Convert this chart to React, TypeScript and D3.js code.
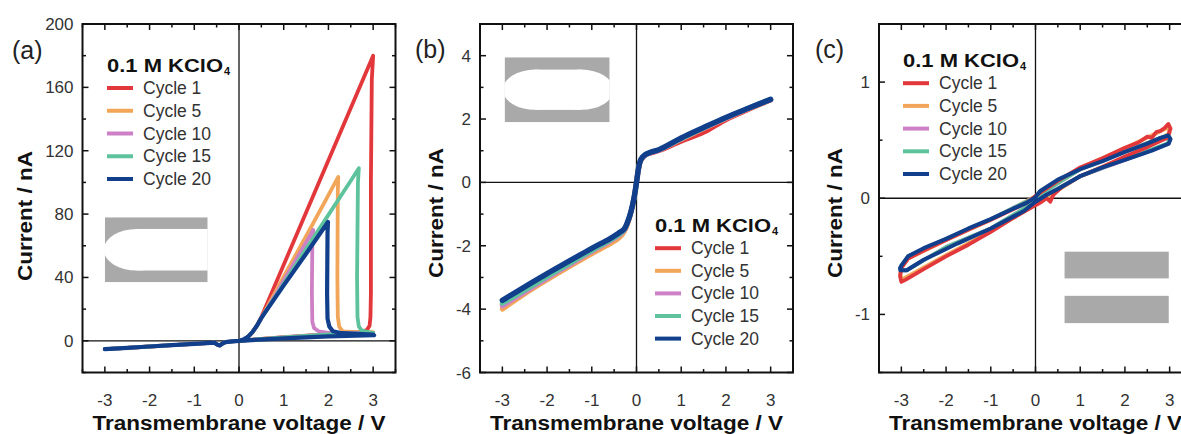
import React from 'react';
import * as d3 from 'd3';

type Pt = [number, number];

// legend / series info
const cycleNames = ['Cycle 1', 'Cycle 5', 'Cycle 10', 'Cycle 15', 'Cycle 20'];
const cycleColors = ['#e2383c', '#f2a65a', '#cd80c6', '#5ec39c', '#113f8b'];

// tick labels
const xTickValues = [-3, -2, -1, 0, 1, 2, 3];
const aYTicks = [0, 40, 80, 120, 160, 200];
const bYTicks = [-6, -4, -2, 0, 2, 4];
const cYTicks = [-1, 0, 1];

// (a) conical pore (V, nA)
const aNeg: Pt[] = [[-3, -5.2], [-2.5, -4.4], [-2, -3.6], [-1.5, -2.7], [-1, -1.9], [-0.55, -1.2],
  [-0.49, -2.3], [-0.43, -2.9], [-0.37, -1.7], [-0.3, -0.8], [-0.15, -0.3], [0, 0]];
const aRise: Pt[] = [[0.1, 0.8], [0.2, 2.5], [0.3, 5.5], [0.4, 9.5]];
const aCycle1: Pt[] = [...aNeg, ...aRise, [0.5, 15], [1, 48], [1.5, 81], [2, 114], [2.5, 147], [3.0, 180],
  [2.97, 165], [2.95, 100], [2.95, 30], [2.94, 15], [2.92, 9.5], [2.86, 6.8], [2.7, 5.6], [2.0, 4.2], [1.0, 2.3], [0.5, 1.2], [0, 0]];
const aCycle5: Pt[] = [...aNeg, ...aRise, [0.5, 14.5], [1, 40.5], [1.5, 66], [2, 92], [2.22, 103.5],
  [2.21, 95], [2.2, 40], [2.21, 15], [2.24, 9], [2.32, 6], [2.6, 5.5], [3, 5.5], [2.5, 4.5], [1.5, 3], [0.5, 1.2], [0, 0]];
const aCycle10: Pt[] = [...aNeg, ...aRise, [0.5, 14], [1, 38], [1.5, 62], [1.62, 68], [1.66, 70],
  [1.64, 62], [1.63, 30], [1.64, 12], [1.68, 8], [1.78, 6], [2.0, 5], [3, 5], [2, 4], [1, 2.2], [0, 0]];
const aCycle15: Pt[] = [...aNeg, ...aRise, [0.5, 14.5], [1, 36], [1.5, 58], [2, 79.5], [2.5, 101], [2.68, 109],
  [2.66, 100], [2.64, 40], [2.65, 15], [2.68, 9], [2.75, 6.5], [2.9, 5.5], [3, 5], [2, 4], [1, 2.2], [0, 0]];
const aCycle20: Pt[] = [...aNeg, ...aRise, [0.5, 14.5], [1, 35], [1.5, 55], [1.99, 75],
  [1.98, 68], [1.97, 30], [1.98, 14], [2.02, 9], [2.1, 6], [2.3, 4.8], [3, 4], [3.02, 3.5], [2, 2.8], [1, 1.6], [0, 0]];

// (b) double conical pore
const bCycle1: Pt[] = [[-3, -3.85], [-2.5, -3.42], [-2, -3.0], [-1.5, -2.6], [-1, -2.2], [-0.6, -1.92], [-0.4, -1.75],
  [-0.28, -1.55], [-0.2, -1.3], [-0.12, -0.92], [-0.05, -0.45], [0, 0], [0.05, 0.46], [0.1, 0.7], [0.2, 0.86],
  [0.35, 0.94], [0.5, 1.0], [1, 1.3], [1.5, 1.58], [2, 1.98], [2.5, 2.3], [3, 2.6]];
const bCycle5: Pt[] = [[-3, -4.0], [-2.5, -3.52], [-2, -3.08], [-1.5, -2.66], [-1, -2.25], [-0.6, -1.95], [-0.4, -1.76],
  [-0.28, -1.56], [-0.2, -1.3], [-0.12, -0.92], [-0.05, -0.45], [0, 0], [0.05, 0.47], [0.1, 0.72], [0.2, 0.87],
  [0.35, 0.96], [0.5, 1.02], [1, 1.36], [1.5, 1.7], [2, 2.02], [2.5, 2.32], [3, 2.6]];
const bCycle10: Pt[] = [[-3, -3.9], [-2.5, -3.46], [-2, -3.02], [-1.5, -2.6], [-1, -2.18], [-0.6, -1.86], [-0.4, -1.68],
  [-0.28, -1.52], [-0.2, -1.28], [-0.12, -0.91], [-0.05, -0.45], [0, 0], [0.05, 0.47], [0.1, 0.72], [0.2, 0.87],
  [0.35, 0.96], [0.5, 1.02], [1, 1.37], [1.5, 1.71], [2, 2.03], [2.5, 2.33], [3, 2.61]];
const bCycle15: Pt[] = [[-3, -3.82], [-2.5, -3.4], [-2, -2.97], [-1.5, -2.56], [-1, -2.15], [-0.6, -1.83], [-0.4, -1.65],
  [-0.28, -1.5], [-0.2, -1.27], [-0.12, -0.9], [-0.05, -0.45], [0, 0], [0.05, 0.48], [0.1, 0.73], [0.2, 0.88],
  [0.35, 0.97], [0.5, 1.03], [1, 1.38], [1.5, 1.72], [2, 2.04], [2.5, 2.34], [3, 2.62]];
const bCycle20: Pt[] = [[-3, -3.72], [-2.5, -3.3], [-2, -2.88], [-1.5, -2.48], [-1, -2.08], [-0.6, -1.78], [-0.4, -1.6],
  [-0.28, -1.48], [-0.2, -1.25], [-0.12, -0.9], [-0.05, -0.45], [0, 0], [0.05, 0.48], [0.1, 0.73], [0.2, 0.88],
  [0.35, 0.97], [0.5, 1.03], [1, 1.4], [1.5, 1.73], [2, 2.05], [2.5, 2.34], [3, 2.62]];

// (c) cylindrical pore, hysteresis loops
const cCycle1: Pt[] = [[-3, -0.6], [-2.85, -0.52], [-2.5, -0.45], [-2, -0.36], [-1.5, -0.27], [-1, -0.185], [-0.5, -0.095],
  [-0.2, -0.04], [0, 0.02], [0.5, 0.15], [1, 0.265], [1.5, 0.345], [2, 0.435], [2.3, 0.48], [2.5, 0.53], [2.6, 0.52],
  [2.7, 0.57], [2.8, 0.58], [2.9, 0.61], [2.97, 0.64], [3.02, 0.6], [2.95, 0.52], [2.5, 0.44], [2, 0.36], [1.5, 0.27],
  [1, 0.19], [0.6, 0.1], [0.4, 0.03], [0.33, -0.03], [0.25, 0.0], [0.1, -0.04], [0, -0.06], [-0.5, -0.17], [-1, -0.29],
  [-1.5, -0.4], [-2, -0.5], [-2.5, -0.61], [-2.9, -0.7], [-3, -0.72], [-3.03, -0.67], [-3, -0.6]];
const cCycle5: Pt[] = [[-3, -0.6], [-2.85, -0.52], [-2, -0.36], [-1, -0.185], [0, 0.015], [1, 0.26], [2, 0.43],
  [2.7, 0.56], [2.97, 0.61], [3.0, 0.56], [2.5, 0.44], [2, 0.355], [1, 0.19], [0.3, 0.02], [0, -0.055], [-1, -0.285],
  [-2, -0.49], [-2.8, -0.66], [-3, -0.7], [-3.02, -0.65], [-3, -0.6]];
const cCycle10: Pt[] = [[-3, -0.58], [-2.85, -0.5], [-2, -0.35], [-1, -0.18], [0, 0.01], [1, 0.25], [2, 0.4], [2.8, 0.52],
  [2.97, 0.54], [2.98, 0.47], [2, 0.33], [1, 0.19], [0.25, 0.03], [0, -0.03], [-1, -0.26], [-2, -0.42], [-2.88, -0.62],
  [-3.02, -0.62], [-3, -0.58]];
const cCycle15: Pt[] = [[-3, -0.58], [-2.85, -0.5], [-2, -0.35], [-1, -0.18], [0, 0.01], [1, 0.25], [2, 0.4], [2.8, 0.52],
  [2.97, 0.545], [2.98, 0.475], [2, 0.335], [1, 0.19], [0.25, 0.03], [0, -0.03], [-1, -0.26], [-2, -0.42], [-2.88, -0.62],
  [-3.02, -0.62], [-3, -0.58]];
const cCycle20: Pt[] = [[-3, -0.58], [-2.85, -0.5], [-2.5, -0.43], [-2, -0.35], [-1.5, -0.26], [-1, -0.18], [-0.5, -0.09],
  [-0.2, -0.04], [0, 0.01], [0.1, 0.06], [0.5, 0.16], [1, 0.25], [1.5, 0.32], [2, 0.4], [2.5, 0.47], [2.8, 0.52],
  [2.97, 0.54], [3.02, 0.51], [2.98, 0.47], [2.6, 0.41], [2, 0.33], [1.5, 0.265], [1, 0.19], [0.5, 0.08], [0.25, 0.03],
  [0, -0.03], [-0.26, -0.11], [-1, -0.26], [-1.75, -0.39], [-2.5, -0.53], [-2.88, -0.62], [-3.02, -0.62], [-3.03, -0.6],
  [-3, -0.58]];

const FONT = '"Liberation Sans", Arial, Helvetica, sans-serif';
const TOP = 24;
const BOTTOM = 372.5;
const PW = 313;

function Legend({ x, y, step }) {
  return (
    <g>
      <text x={x} y={y} fontFamily={FONT} fontWeight="bold" fontSize={19} fill="#111"
        textLength={116} lengthAdjust="spacingAndGlyphs">0.1 M KClO</text>
      <text x={x + 117} y={y + 3} fontFamily={FONT} fontWeight="bold" fontSize={11} fill="#111">4</text>
      {cycleNames.map((name, i) => {
        let ly = y + 16.5 + i * step;
        return (
          <g key={name}>
            <line x1={x} x2={x + 26} y1={ly} y2={ly} stroke={cycleColors[i]} strokeWidth={4} />
            <text x={x + 36} y={ly + 6} fontFamily={FONT} fontSize={17.5} fill="#333">{name}</text>
          </g>
        );
      })}
    </g>
  );
}

function Panel({ left, yDomain, yTicks, yMinor, series, widths, order, label, legend, titleX, titleY, curve, inset }) {
  const x = d3.scaleLinear().domain([-3.5, 3.5]).range([left, left + PW]);
  const y = d3.scaleLinear().domain(yDomain).range([BOTTOM, TOP]);
  const line = d3.line<Pt>().x((d) => x(d[0])).y((d) => y(d[1])).curve(curve);

  let xMinor = d3.range(-3.5, 3.51, 0.5).filter((v) => !xTickValues.includes(v));
  let yMinorVals = d3.range(yDomain[0], yDomain[1] + 1e-6, yMinor).filter((v) => !yTicks.includes(v));

  return (
    <g>
      {inset(x, y)}
      {/* zero lines */}
      <line x1={x(0)} x2={x(0)} y1={TOP} y2={BOTTOM} stroke="#111" strokeWidth={1.3} />
      <line x1={left} x2={left + PW} y1={y(0)} y2={y(0)} stroke="#111" strokeWidth={1.3} />

      {order.map((i) => (
        <path key={i} d={line(series[i]) || ''} fill="none" stroke={cycleColors[i]}
          strokeWidth={widths[i]} strokeLinejoin="round" strokeLinecap="round" />
      ))}

      {/* frame */}
      <rect x={left} y={TOP} width={PW} height={BOTTOM - TOP} fill="none" stroke="#111" strokeWidth={2} />

      {xTickValues.map((v) => (
        <g key={'xt' + v}>
          <line x1={x(v)} x2={x(v)} y1={BOTTOM} y2={BOTTOM - 6} stroke="#111" strokeWidth={1.5} />
          <line x1={x(v)} x2={x(v)} y1={TOP} y2={TOP + 6} stroke="#111" strokeWidth={1.5} />
          <text x={x(v)} y={406} textAnchor="middle" fontFamily={FONT} fontSize={17} fill="#333">{v}</text>
        </g>
      ))}
      {xMinor.map((v) => (
        <g key={'xm' + v}>
          <line x1={x(v)} x2={x(v)} y1={BOTTOM} y2={BOTTOM - 3.5} stroke="#111" strokeWidth={1.5} />
          <line x1={x(v)} x2={x(v)} y1={TOP} y2={TOP + 3.5} stroke="#111" strokeWidth={1.5} />
        </g>
      ))}
      {yTicks.map((v) => (
        <g key={'yt' + v}>
          <line x1={left} x2={left + 6} y1={y(v)} y2={y(v)} stroke="#111" strokeWidth={1.5} />
          <line x1={left + PW} x2={left + PW - 6} y1={y(v)} y2={y(v)} stroke="#111" strokeWidth={1.5} />
          <text x={left - 9} y={y(v) + 6} textAnchor="end" fontFamily={FONT} fontSize={17} fill="#333">{v}</text>
        </g>
      ))}
      {yMinorVals.map((v) => (
        <g key={'ym' + v}>
          <line x1={left} x2={left + 3.5} y1={y(v)} y2={y(v)} stroke="#111" strokeWidth={1.5} />
          <line x1={left + PW} x2={left + PW - 3.5} y1={y(v)} y2={y(v)} stroke="#111" strokeWidth={1.5} />
        </g>
      ))}

      {/* axis titles */}
      <text x={x(0)} y={430} textAnchor="middle" fontFamily={FONT} fontWeight="bold" fontSize={19.5} fill="#111"
        textLength={293} lengthAdjust="spacingAndGlyphs">Transmembrane voltage / V</text>
      <text transform={`translate(${titleX},${titleY}) rotate(-90)`} textAnchor="middle" fontFamily={FONT}
        fontWeight="bold" fontSize={19.5} fill="#111" textLength={130} lengthAdjust="spacingAndGlyphs">Current / nA</text>

      <text x={label[0]} y={label[1]} fontFamily={FONT} fontSize={25} fill="#222">{label[2]}</text>
      {legend}
    </g>
  );
}

const GREY = '#a9a9a9';

function insetA(x, y) {
  let x0 = x(-3), x1 = x(-0.7), y0 = y(78), y1 = y(37);
  let w = x1 - x0, h = y1 - y0;
  let cy = (y0 + y1) / 2;
  return (
    <g>
      <clipPath id="clipA"><rect x={x0} y={y0} width={w} height={h} /></clipPath>
      <g clipPath="url(#clipA)">
        <rect x={x0} y={y0} width={w} height={h} fill={GREY} />
        <ellipse cx={x0 + 0.31 * w} cy={cy} rx={0.32 * w} ry={0.32 * h} fill="#fff" />
        <rect x={x0 + 0.31 * w} y={cy - 0.32 * h} width={w} height={0.64 * h} fill="#fff" />
      </g>
    </g>
  );
}

function insetB(x, y) {
  let x0 = x(-2.95), x1 = x(-0.6), y0 = y(3.95), y1 = y(1.9);
  let w = x1 - x0, h = y1 - y0;
  let cy = (y0 + y1) / 2;
  let ry = 0.31 * h;
  return (
    <g>
      <clipPath id="clipB"><rect x={x0} y={y0} width={w} height={h} /></clipPath>
      <g clipPath="url(#clipB)">
        <rect x={x0} y={y0} width={w} height={h} fill={GREY} />
        <ellipse cx={x0 + 0.29 * w} cy={cy} rx={0.305 * w} ry={ry} fill="#fff" />
        <ellipse cx={x1 - 0.27 * w} cy={cy} rx={0.305 * w} ry={ry} fill="#fff" />
        <rect x={x0 + 0.29 * w} y={cy - ry} width={w - 0.56 * w} height={2 * ry} fill="#fff" />
      </g>
    </g>
  );
}

function insetC(x, y) {
  return (
    <g>
      <rect x={x(0.65)} y={y(-0.46)} width={x(2.98) - x(0.65)} height={y(-0.69) - y(-0.46)} fill={GREY} />
      <rect x={x(0.65)} y={y(-0.84)} width={x(2.98) - x(0.65)} height={y(-1.075) - y(-0.84)} fill={GREY} />
    </g>
  );
}

export default function App() {
  return (
    <div style={{ position: 'absolute', left: 0, top: 0, background: '#fff' }}>
      <svg width={1181} height={434} style={{ display: 'block' }}>
        <rect width={1181} height={434} fill="#fff" />
        <Panel left={82.5} yDomain={[-20, 200]} yTicks={aYTicks} yMinor={20}
          series={[aCycle1, aCycle5, aCycle10, aCycle15, aCycle20]} widths={[3.8, 3.8, 3.8, 3.8, 4.2]}
          order={[0, 1, 2, 3, 4]}
          label={[12, 58.5, '(a)']} titleX={31.5} titleY={216} curve={d3.curveLinear} inset={insetA}
          legend={<Legend x={107} y={71.5} step={22.75} />} />
        <Panel left={480} yDomain={[-6, 5]} yTicks={bYTicks} yMinor={1}
          series={[bCycle1, bCycle5, bCycle10, bCycle15, bCycle20]} widths={[5, 5, 5, 5, 5.5]}
          order={[0, 1, 2, 3, 4]}
          label={[415, 58, '(b)']} titleX={443} titleY={213} curve={d3.curveCatmullRom.alpha(0.5)} inset={insetB}
          legend={<Legend x={655} y={231.7} step={22.6} />} />
        <Panel left={879} yDomain={[-1.5, 1.5]} yTicks={cYTicks} yMinor={0.5}
          series={[cCycle1, cCycle5, cCycle10, cCycle15, cCycle20]} widths={[3.8, 3.8, 3.8, 3.8, 4]}
          order={[1, 2, 3, 0, 4]}
          label={[815, 58, '(c)']} titleX={842} titleY={213} curve={d3.curveLinear} inset={insetC}
          legend={<Legend x={903} y={66.7} step={22.7} />} />
      </svg>
    </div>
  );
}
